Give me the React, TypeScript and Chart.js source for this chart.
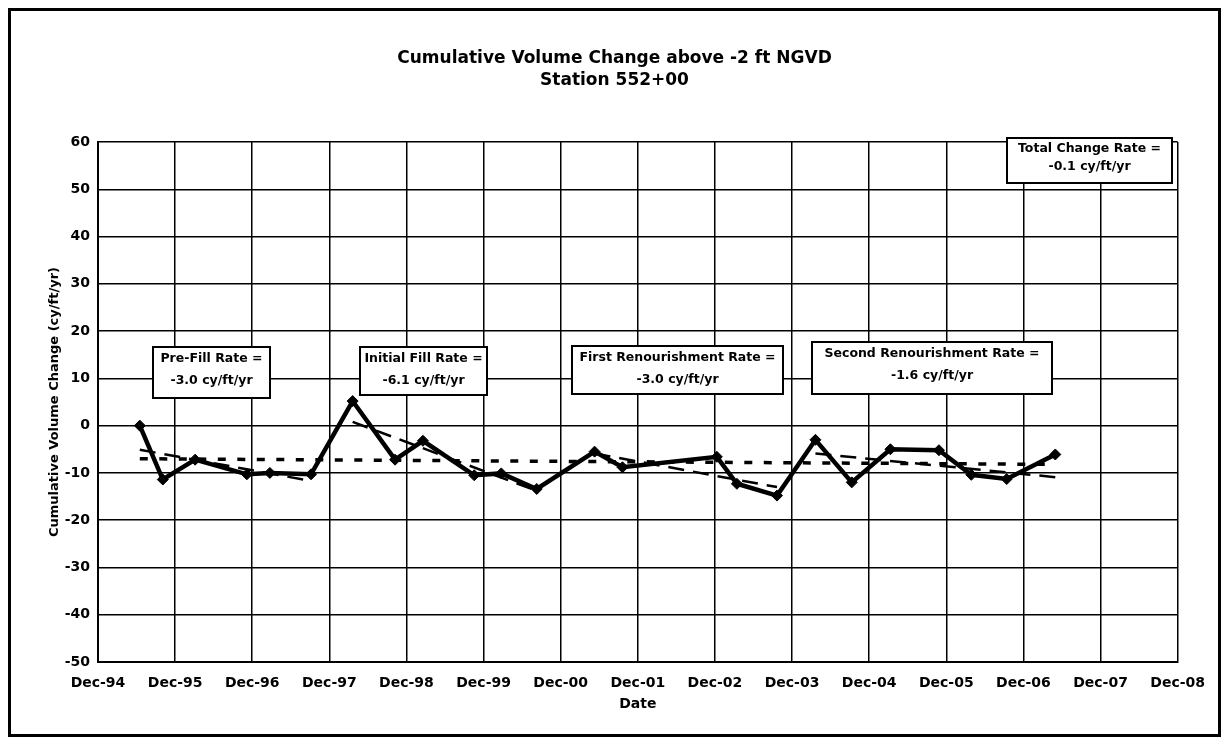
import React, { useEffect, useRef } from 'react';
import { Chart, registerables } from 'chart.js';

Chart.register(...registerables);

// ---------- texts ----------
const chartTitle = ['Cumulative Volume Change above -2 ft NGVD', 'Station 552+00'];
const xAxisTitle = 'Date';
const yAxisTitle = 'Cumulative Volume Change (cy/ft/yr)';
const xTickLabels = [
  'Dec-94', 'Dec-95', 'Dec-96', 'Dec-97', 'Dec-98', 'Dec-99', 'Dec-00', 'Dec-01',
  'Dec-02', 'Dec-03', 'Dec-04', 'Dec-05', 'Dec-06', 'Dec-07', 'Dec-08',
];

// ---------- survey data ----------
const surveyDates = [
  '1995-06-17', '1995-10-04', '1996-03-05', '1996-11-05', '1997-02-22', '1997-09-05',
  '1998-03-21', '1998-10-08', '1999-02-17', '1999-10-18', '2000-02-23', '2000-08-09',
  '2001-05-10', '2001-09-19', '2002-12-10', '2003-03-15', '2003-09-21', '2004-03-21',
  '2004-09-09', '2005-03-11', '2005-10-27', '2006-03-29', '2006-09-13', '2007-05-01',
];
const volumeChange = [
  0, -11.4, -7.2, -10.3, -10.0, -10.3,
  5.2, -7.2, -3.2, -10.5, -10.1, -13.4,
  -5.5, -8.8, -6.6, -12.3, -14.8, -3.0,
  -12.0, -5.0, -5.2, -10.4, -11.3, -6.1,
];

// ---------- trend lines (end points) ----------
const preFillDates = ['1995-06-17', '1997-09-05'];
const preFillTrend = [-5.1, -11.7];
const initialFillDates = ['1998-03-21', '2000-08-09'];
const initialFillTrend = [0.8, -13.8];
const firstRenourishDates = ['2001-05-10', '2003-09-21'];
const firstRenourishTrend = [-5.9, -13.0];
const secondRenourishDates = ['2004-03-21', '2007-05-01'];
const secondRenourishTrend = [-5.9, -10.9];
const totalDates = ['1995-06-17', '2007-05-01'];
const totalTrend = [-7.0, -8.2];

// ---------- rate text boxes ----------
const rateLabels = [
  ['Pre-Fill Rate =', '-3.0 cy/ft/yr'],
  ['Initial Fill Rate =', '-6.1 cy/ft/yr'],
  ['First Renourishment Rate =', '-3.0 cy/ft/yr'],
  ['Second Renourishment Rate =', '-1.6 cy/ft/yr'],
  ['Total Change Rate =', '-0.1 cy/ft/yr'],
];
// box placement in axis units: [xLeft, xRight, yTop, yBottom], line offsets (px from top)
const rateBoxPlacement = [
  { box: [0.712, 2.228, 16.6, 5.8], lines: [12, 34] },
  { box: [3.394, 5.039, 16.6, 6.5], lines: [12, 34] },
  { box: [6.14, 8.886, 16.8, 6.7], lines: [12, 34] },
  { box: [9.262, 12.37, 17.7, 6.7], lines: [12, 34] },
  { box: [11.79, 13.925, 60.8, 51.3], lines: [11, 29] },
];

const AXIS_START = Date.UTC(1994, 11, 1);
const toYears = (d: string) => (Date.parse(d) - AXIS_START) / (365.25 * 86400000);
const toPoints = (dates: string[], vals: number[]) =>
  dates.map((d, i) => ({ x: toYears(d), y: vals[i] }));

const FONT = 'DejaVu Sans';

// chart title centred on the whole chart (canvas), as in the reference
const centredTitlePlugin = {
  id: 'centredTitle',
  afterDraw(chart: any) {
    const { ctx, width } = chart;
    ctx.save();
    ctx.fillStyle = '#000';
    ctx.font = `bold 17px "${FONT}"`;
    ctx.textAlign = 'center';
    ctx.textBaseline = 'middle';
    chartTitle.forEach((line, i) => ctx.fillText(line, width / 2, 48 + i * 22));
    ctx.restore();
  },
};

const rateBoxPlugin = {
  id: 'rateBoxes',
  afterDatasetsDraw(chart: any) {
    const { ctx, scales } = chart;
    const xs = scales.x;
    const ys = scales.y;
    ctx.save();
    rateBoxPlacement.forEach((p, i) => {
      const [x0, x1, y0, y1] = p.box;
      const l = Math.round(xs.getPixelForValue(x0));
      const r = Math.round(xs.getPixelForValue(x1));
      const t = Math.round(ys.getPixelForValue(y0));
      const b = Math.round(ys.getPixelForValue(y1));
      ctx.fillStyle = '#fff';
      ctx.fillRect(l, t, r - l, b - t);
      ctx.lineWidth = 2;
      ctx.strokeStyle = '#000';
      ctx.strokeRect(l, t, r - l, b - t);
      ctx.fillStyle = '#000';
      ctx.font = `bold 12.5px "${FONT}"`;
      ctx.textAlign = 'center';
      ctx.textBaseline = 'middle';
      rateLabels[i].forEach((line, j) => {
        ctx.fillText(line, (l + r) / 2, t + p.lines[j]);
      });
    });
    ctx.restore();
  },
};

export default function App() {
  const ref = useRef<HTMLCanvasElement>(null);

  useEffect(() => {
    if (!ref.current) return;
    const tickFont = { family: FONT, weight: 'bold' as const, size: 14 };
    const trendStyle = {
      borderColor: '#000',
      borderWidth: 2.5,
      borderDash: [16, 9],
      pointRadius: 0,
      fill: false,
      order: 2,
    };
    const chart = new Chart(ref.current, {
      type: 'line',
      data: {
        datasets: [
          {
            label: 'Cumulative Volume Change',
            data: toPoints(surveyDates, volumeChange),
            borderColor: '#000',
            borderWidth: 4.5,
            pointStyle: 'rectRot',
            pointRadius: 5.5,
            pointBackgroundColor: '#000',
            pointBorderColor: '#000',
            pointBorderWidth: 1,
            fill: false,
            order: 0,
          },
          { label: 'Pre-Fill', data: toPoints(preFillDates, preFillTrend), ...trendStyle },
          { label: 'Initial Fill', data: toPoints(initialFillDates, initialFillTrend), ...trendStyle },
          { label: 'First Renourishment', data: toPoints(firstRenourishDates, firstRenourishTrend), ...trendStyle },
          { label: 'Second Renourishment', data: toPoints(secondRenourishDates, secondRenourishTrend), ...trendStyle },
          {
            label: 'Total',
            data: toPoints(totalDates, totalTrend),
            borderColor: '#000',
            borderWidth: 3.5,
            borderDash: [8, 11.5],
            pointRadius: 0,
            fill: false,
            order: 1,
          },
        ],
      },
      options: {
        responsive: false,
        animation: false,
        layout: { padding: { left: 0, right: 39, top: 131, bottom: 0 } },
        elements: { line: { tension: 0 } },
        plugins: {
          legend: { display: false },
          tooltip: { enabled: false },
          title: { display: false },
        },
        scales: {
          x: {
            type: 'linear',
            min: 0,
            max: 14,
            ticks: {
              stepSize: 1,
              autoSkip: false,
              maxRotation: 0,
              color: '#000',
              font: tickFont,
              padding: 13,
              callback: (v: any) => xTickLabels[Math.round(Number(v))] ?? '',
            },
            grid: { color: '#000', lineWidth: 1.5, drawTicks: false },
            border: { color: '#000', width: 2 },
            title: {
              display: true,
              text: xAxisTitle,
              color: '#000',
              font: { family: FONT, weight: 'bold', size: 14 },
              padding: { top: 0, bottom: 21 },
            },
            afterFit: (s: any) => {
              s.height = 72;
            },
          },
          y: {
            type: 'linear',
            min: -50,
            max: 60,
            ticks: { stepSize: 10, color: '#000', font: tickFont, padding: 8 },
            grid: { color: '#000', lineWidth: 1.5, drawTicks: false },
            border: { color: '#000', width: 2 },
            title: {
              display: true,
              text: yAxisTitle,
              color: '#000',
              font: { family: FONT, weight: 'bold', size: 13 },
              padding: { top: 36, bottom: 0 },
            },
            afterFit: (s: any) => {
              s.width = 87;
            },
          },
        },
      },
      plugins: [rateBoxPlugin, centredTitlePlugin],
    } as any);
    return () => chart.destroy();
  }, []);

  return (
    <div
      style={{
        width: 1213,
        height: 729,
        border: '3px solid #000',
        boxSizing: 'border-box',
        background: '#fff',
      }}
    >
      <canvas ref={ref} width={1207} height={723} style={{ display: 'block', width: 1207, height: 723 }} />
    </div>
  );
}
